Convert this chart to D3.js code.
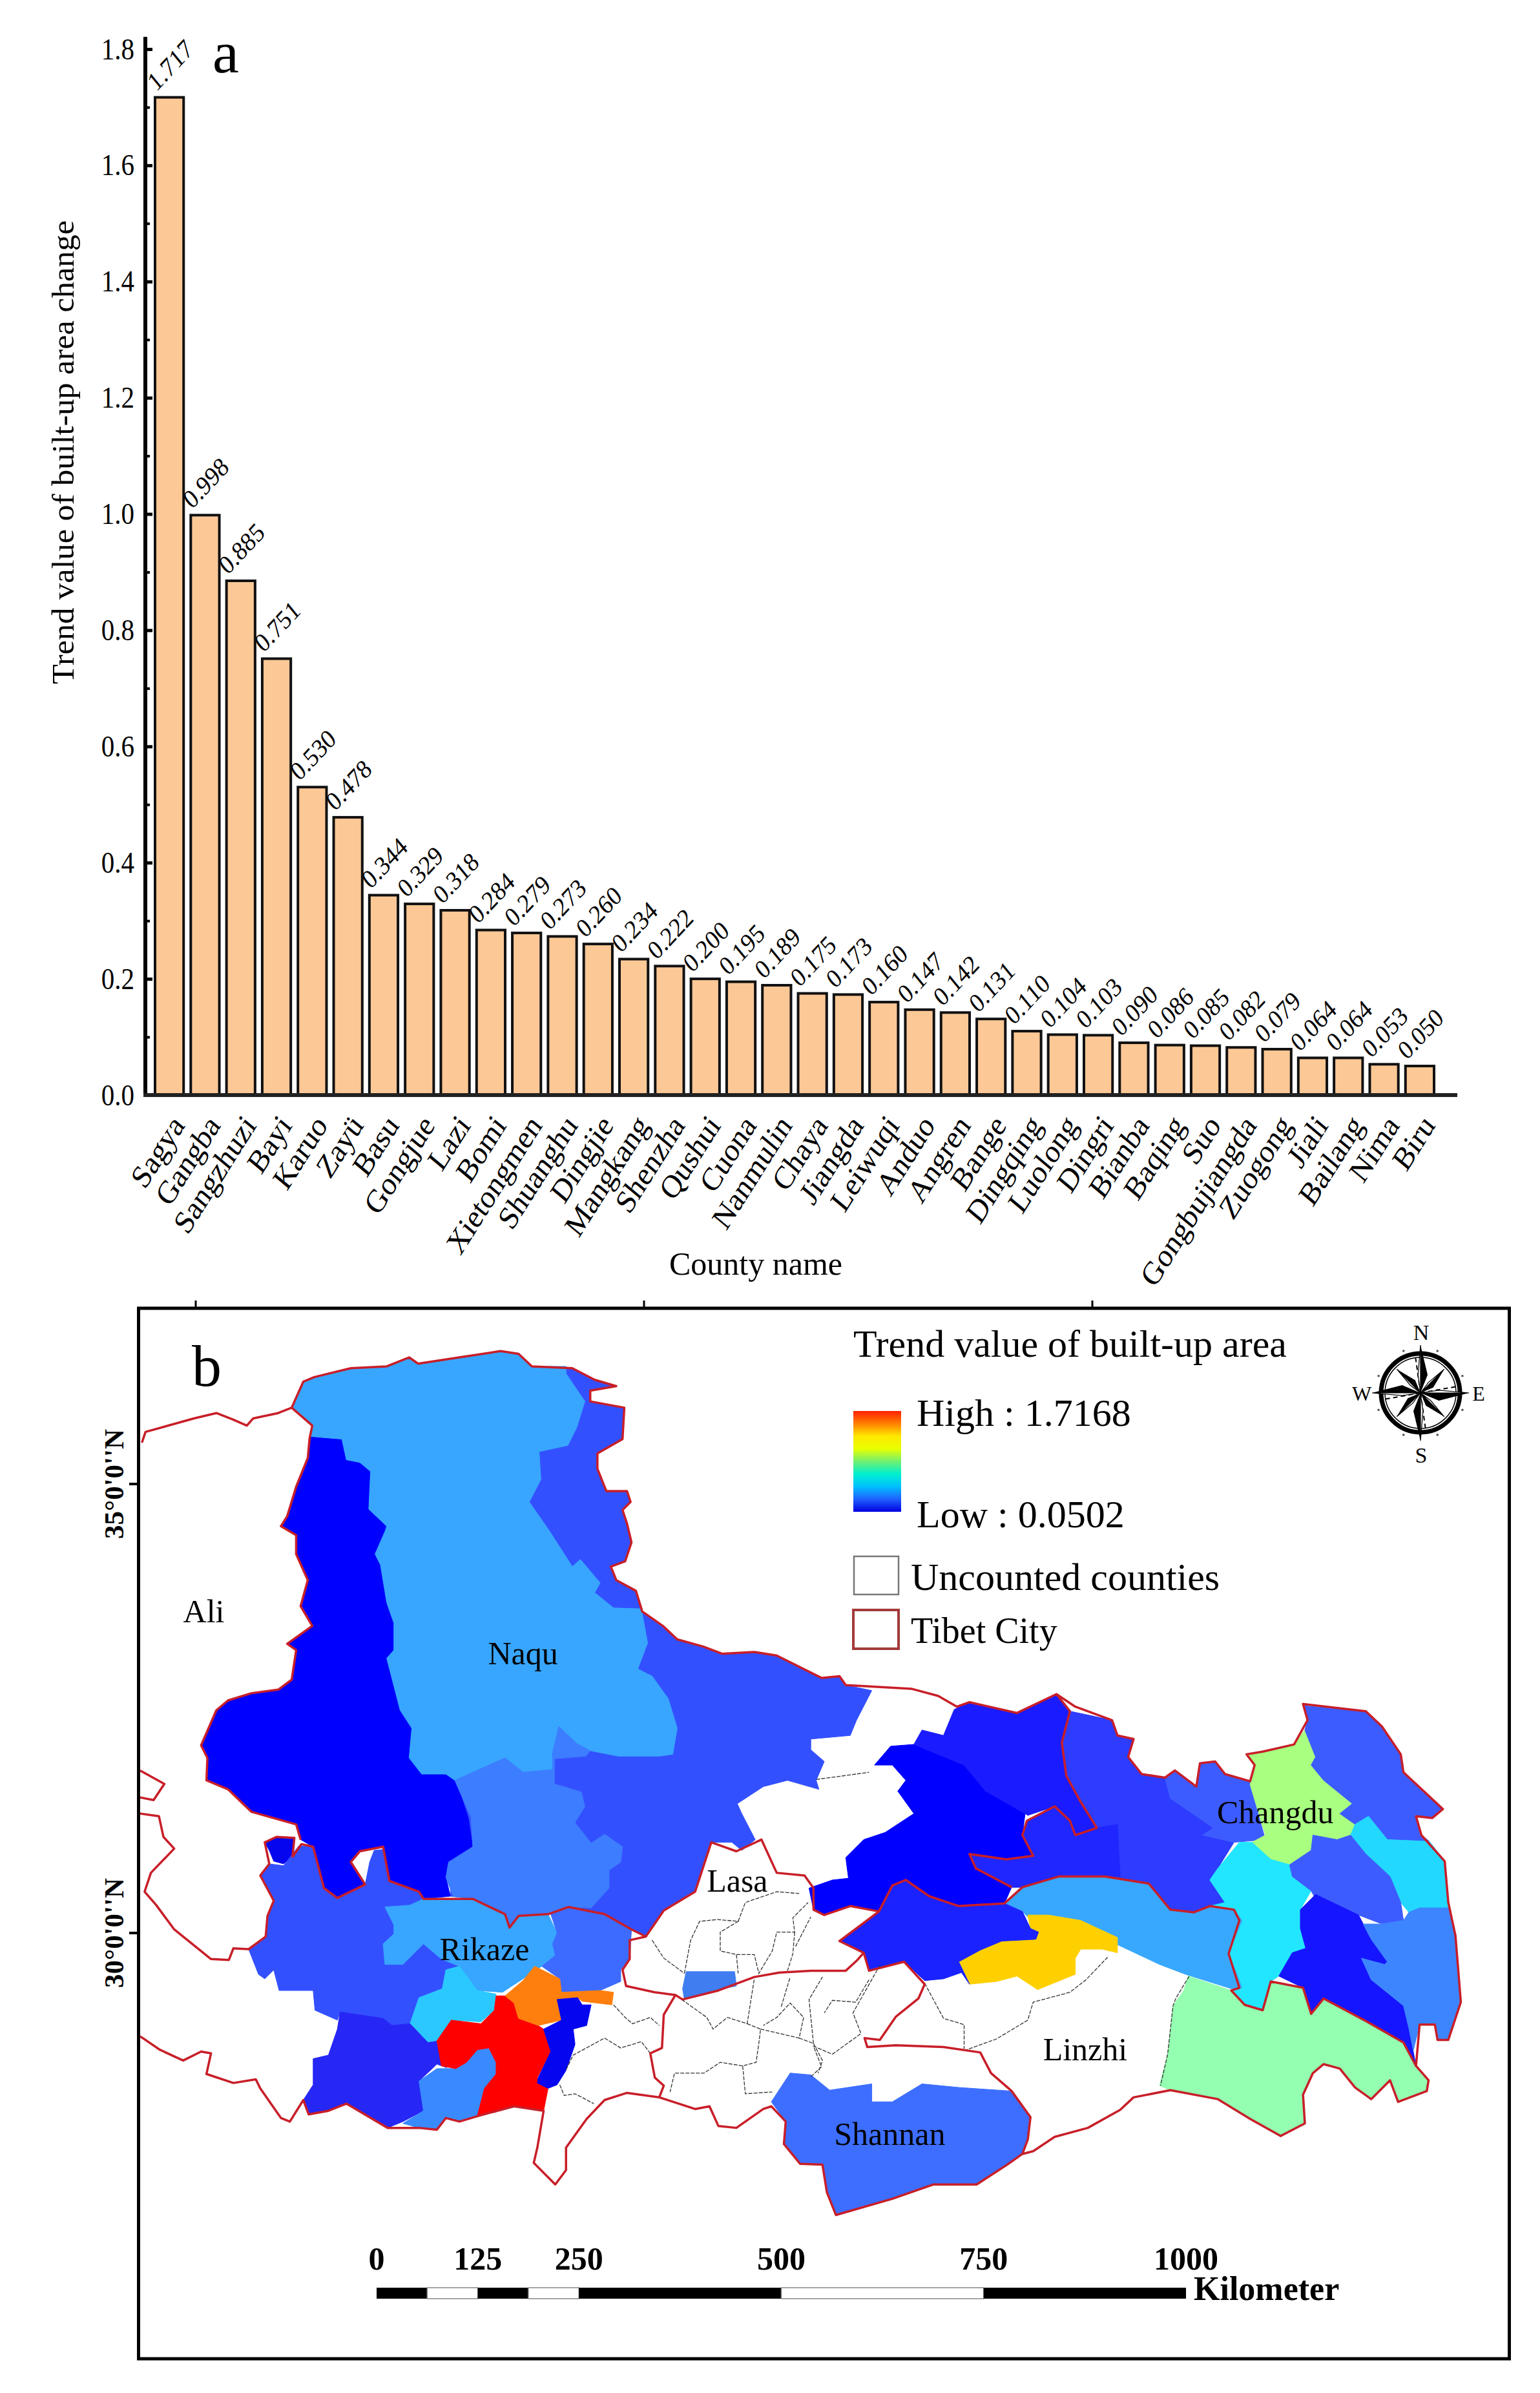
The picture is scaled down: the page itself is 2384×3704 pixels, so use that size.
<!DOCTYPE html>
<html>
<head>
<meta charset="utf-8">
<title>Trend value of built-up area change</title>
<script src="https://cdn.jsdelivr.net/npm/d3@7"></script>
<style>
body { margin: 0; background: #fff; }
svg { display: block; }
text { font-family: "Liberation Serif", serif; fill: #000; }
</style>
</head>
<body>
<svg width="2384" height="3704"></svg>
<script>
// ---- panel a data
const counties = ["Sagya","Gangba","Sangzhuzi","Bayi","Karuo","Zayü","Basu","Gongjue","Lazi","Bomi","Xietongmen","Shuanghu","Dingjie","Mangkang","Shenzha","Qushui","Cuona","Nanmulin","Chaya","Jiangda","Leiwuqi","Anduo","Angren","Bange","Dingqing","Luolong","Dingri","Bianba","Baqing","Suo","Gongbujiangda","Zuogong","Jiali","Bailang","Nima","Biru"];
const trendValues = [1.717,0.998,0.885,0.751,0.530,0.478,0.344,0.329,0.318,0.284,0.279,0.273,0.260,0.234,0.222,0.200,0.195,0.189,0.175,0.173,0.160,0.147,0.142,0.131,0.110,0.104,0.103,0.090,0.086,0.085,0.082,0.079,0.064,0.064,0.053,0.050];
const yTicks = [0,0.2,0.4,0.6,0.8,1.0,1.2,1.4,1.6,1.8];
const yMinorTicks = [0.1,0.3,0.5,0.7,0.9,1.1,1.3,1.5,1.7];

const naquBase = [[88.60,36.45],[88.75,36.31],[89.20,36.29],[89.45,36.16],[89.69,36.09],[89.40,36.04],[89.40,35.92],[89.78,35.85],[89.76,35.50],[89.48,35.34],[89.48,35.17],[89.58,34.92],[89.81,34.92],[89.85,34.80],[89.76,34.71],[89.81,34.56],[89.86,34.35],[89.79,34.14],[89.63,34.08],[89.69,33.93],[89.91,33.81],[89.98,33.58],[90.21,33.42],[90.37,33.27],[90.66,33.19],[90.87,33.11],[91.23,33.13],[91.48,33.09],[91.98,32.84],[92.18,32.86],[92.25,32.76],[92.54,32.70],[92.37,32.37],[92.30,32.20],[91.86,32.16],[91.86,32.04],[92.01,31.91],[91.92,31.70],[91.95,31.60],[91.60,31.70],[91.33,31.63],[91.04,31.44],[91.09,31.33],[91.24,31.04],[91.09,30.92],[90.98,31.01],[90.75,31.01],[90.57,30.46],[90.22,30.25],[90.02,29.96],[89.86,30.04],[89.56,30.21],[89.16,30.29],[88.93,30.21],[88.60,30.19],[88.50,30.06],[88.45,30.21],[88.30,30.28],[88.09,30.38],[87.84,30.41],[87.87,31.74],[87.59,32.83],[87.25,34.53],[87.25,36.22]];
const naquDeep = [[86.30,35.65],[86.27,35.51],[86.25,35.29],[86.12,34.97],[86.02,34.64],[85.95,34.53],[86.12,34.43],[86.12,34.22],[86.25,33.93],[86.17,33.64],[86.30,33.42],[86.02,33.22],[86.12,33.15],[86.07,32.82],[85.92,32.71],[85.62,32.67],[85.36,32.59],[85.23,32.48],[85.06,32.09],[85.13,31.95],[85.12,31.70],[85.36,31.60],[85.62,31.35],[86.12,31.21],[86.17,31.04],[86.31,30.96],[86.43,30.50],[86.58,30.39],[86.89,30.54],[86.73,30.79],[86.83,30.91],[87.09,30.96],[87.16,30.58],[87.49,30.46],[87.54,30.38],[87.84,30.41],[87.79,30.62],[87.82,30.79],[88.09,30.96],[88.04,31.28],[87.92,31.65],[87.87,31.74],[87.80,31.97],[87.60,32.83],[87.40,34.19],[87.30,34.78],[87.20,35.46]];
const naquLight = [[86.07,35.85],[86.20,36.14],[86.32,36.19],[86.73,36.29],[87.13,36.31],[87.38,36.41],[87.48,36.34],[87.94,36.41],[88.40,36.48],[88.60,36.45],[88.75,36.31],[89.13,36.31],[89.13,36.23],[89.34,35.92],[89.25,35.63],[89.15,35.43],[88.83,35.36],[88.85,35.05],[88.72,34.80],[88.95,34.47],[89.20,34.08],[89.29,34.16],[89.51,33.90],[89.45,33.79],[89.66,33.62],[89.97,33.61],[90.04,33.23],[89.93,32.94],[90.09,32.86],[90.27,32.61],[90.37,32.28],[90.32,31.99],[90.17,31.97],[89.71,31.97],[89.40,32.03],[89.25,32.11],[89.05,32.30],[88.98,32.01],[88.98,31.82],[88.65,31.79],[88.45,31.95],[87.89,31.70],[87.79,31.77],[87.52,31.77],[87.38,31.95],[87.41,32.28],[87.28,32.48],[87.13,33.06],[87.21,33.15],[87.21,33.45],[87.13,33.68],[87.06,34.10],[87.00,34.22],[87.11,34.47],[87.13,34.53],[86.93,34.72],[86.95,35.14],[86.83,35.24],[86.68,35.27],[86.63,35.50],[86.27,35.53],[86.30,35.65]];
const shenzha = [[87.89,31.70],[88.45,31.95],[88.65,31.79],[88.98,31.82],[88.98,32.01],[89.05,32.30],[89.25,32.11],[89.40,32.03],[89.35,31.97],[89.00,31.94],[89.00,31.66],[89.30,31.57],[89.34,31.41],[89.23,31.23],[89.41,31.00],[89.56,31.10],[89.76,30.96],[89.74,30.79],[89.61,30.70],[89.61,30.50],[89.41,30.28],[89.16,30.29],[88.93,30.21],[88.60,30.19],[88.50,30.06],[88.45,30.21],[88.30,30.28],[88.09,30.38],[87.87,30.41],[87.79,30.62],[87.82,30.79],[88.09,30.96],[88.07,31.29],[87.92,31.63]];
const smallWest = [[85.77,31.01],[85.90,31.07],[86.10,31.06],[86.08,30.85],[85.98,30.77],[85.87,30.80],[85.82,30.92]];
const rikazeBase = [[85.59,29.82],[85.78,29.96],[85.80,30.19],[85.87,30.36],[85.72,30.64],[85.82,30.77],[85.98,30.75],[86.15,30.97],[86.31,30.96],[86.43,30.50],[86.58,30.39],[86.89,30.54],[86.94,30.79],[86.99,30.92],[87.09,30.93],[87.16,30.58],[87.49,30.46],[87.54,30.38],[87.75,30.28],[88.00,30.00],[88.00,29.50],[87.80,29.38],[87.49,29.28],[87.39,28.99],[87.19,28.97],[87.09,29.05],[86.61,29.12],[86.58,29.03],[86.33,29.14],[86.31,29.36],[85.93,29.36],[85.87,29.59],[85.77,29.49],[85.70,29.54]];
const rikazeLight = [[87.54,30.38],[88.09,30.38],[88.30,30.28],[88.45,30.21],[88.50,30.06],[88.60,30.19],[88.93,30.21],[89.03,30.00],[88.98,29.88],[89.01,29.75],[88.86,29.63],[88.65,29.49],[88.42,29.34],[88.14,29.36],[87.94,29.63],[87.74,29.71],[87.54,29.88],[87.31,29.65],[87.11,29.65],[87.09,29.88],[87.21,29.99],[87.21,30.09],[87.11,30.29],[87.39,30.31]];
const rikazeEast = [[88.96,30.21],[89.03,30.00],[88.98,29.88],[89.01,29.75],[88.86,29.63],[89.06,29.49],[89.08,29.34],[89.51,29.36],[89.74,29.46],[89.74,29.59],[89.84,29.71],[89.86,30.04],[89.56,30.21],[89.18,30.29]];
const rikazeCyan = [[87.94,29.63],[88.14,29.36],[88.35,29.32],[88.33,29.14],[88.18,29.01],[87.85,29.03],[87.69,28.80],[87.59,28.78],[87.39,28.99],[87.49,29.28],[87.75,29.38],[87.79,29.59]];
const gangba = [[86.61,29.12],[87.09,29.05],[87.19,28.97],[87.39,28.99],[87.59,28.78],[87.72,28.80],[87.80,28.75],[87.80,28.50],[87.69,28.54],[87.49,28.35],[87.54,28.02],[87.31,27.90],[87.14,27.83],[86.68,28.10],[86.48,28.02],[86.26,27.98],[86.20,28.14],[86.31,28.31],[86.31,28.60],[86.48,28.64],[86.58,28.93]];
const lowerBlue = [[87.49,28.35],[87.69,28.49],[87.90,28.49],[88.02,28.56],[88.14,28.70],[88.27,28.72],[88.35,28.56],[88.35,28.43],[88.22,28.27],[88.14,27.96],[87.94,27.90],[87.79,27.94],[87.69,27.81],[87.49,27.83],[87.31,27.88],[87.54,28.02]];
const sagya = [[88.45,29.30],[88.55,29.22],[88.60,29.05],[88.82,28.97],[88.88,28.93],[88.96,28.68],[88.81,28.39],[88.93,28.27],[88.88,28.02],[88.55,28.07],[88.14,27.96],[88.22,28.27],[88.35,28.43],[88.35,28.56],[88.27,28.72],[88.14,28.70],[88.02,28.56],[87.90,28.49],[87.74,28.52],[87.69,28.80],[87.85,29.03],[88.18,28.99],[88.33,29.14],[88.35,29.30]];
const sangzhuzi = [[88.78,29.63],[89.06,29.49],[89.08,29.34],[89.51,29.36],[89.66,29.34],[89.64,29.20],[89.31,29.24],[89.26,29.28],[89.03,29.26],[89.08,29.03],[88.82,28.97],[88.60,29.05],[88.55,29.22],[88.45,29.30],[88.65,29.47]];
const kangmar = [[89.03,29.26],[89.26,29.28],[89.31,29.20],[89.41,29.20],[89.36,28.97],[89.21,28.93],[89.23,28.76],[89.13,28.47],[89.03,28.31],[88.93,28.27],[88.81,28.33],[88.82,28.39],[88.96,28.68],[88.88,28.93],[89.08,29.03]];
const lasaBlue = [[90.47,29.57],[91.01,29.57],[91.03,29.41],[90.78,29.36],[90.45,29.26],[90.43,29.38]];
const centralDeep = [[92.57,31.87],[92.75,32.08],[93.01,32.10],[93.57,31.87],[93.81,31.58],[94.25,31.33],[94.22,31.09],[94.34,30.86],[94.04,30.82],[93.63,30.88],[93.70,30.72],[94.10,30.51],[94.02,30.33],[93.51,30.30],[93.18,30.41],[92.92,30.59],[92.77,30.53],[92.62,30.24],[92.30,30.30],[92.01,30.20],[91.89,30.26],[91.84,30.50],[92.10,30.59],[92.28,30.61],[92.25,30.84],[92.45,31.04],[92.69,31.12],[93.01,31.33],[92.83,31.58],[92.92,31.70],[92.77,31.87]];
const centralTop = [[93.01,32.10],[93.10,32.26],[93.34,32.20],[93.46,32.49],[93.63,32.57],[94.16,32.45],[94.60,32.66],[94.75,32.47],[94.66,32.12],[94.71,31.75],[94.87,31.46],[95.05,31.17],[94.81,31.09],[94.75,31.25],[94.58,31.41],[94.28,31.31],[94.25,31.33],[93.81,31.58],[93.57,31.87]];
const changduWest = [[94.75,32.47],[95.22,32.37],[95.28,32.20],[95.46,32.16],[95.40,31.96],[95.55,31.77],[95.81,31.73],[95.87,31.50],[96.35,31.17],[96.23,31.09],[96.58,31.01],[96.40,30.72],[96.31,30.59],[96.48,30.34],[96.31,30.30],[96.13,30.23],[95.87,30.26],[95.63,30.55],[95.14,30.63],[94.63,30.63],[94.22,30.51],[94.10,30.51],[93.70,30.72],[93.63,30.88],[94.04,30.82],[94.34,30.86],[94.22,31.09],[94.27,31.25],[94.58,31.41],[94.75,31.25],[94.81,31.09],[95.05,31.17],[94.87,31.46],[94.71,31.75],[94.66,32.12]];
const changduDark = [[95.05,31.17],[95.28,31.21],[95.31,30.63],[95.14,30.63],[94.63,30.63],[94.22,30.51],[94.10,30.51],[93.70,30.72],[93.63,30.88],[94.04,30.82],[94.34,30.86],[94.22,31.09],[94.27,31.25],[94.58,31.41],[94.75,31.25],[94.81,31.09]];
const dingqing = [[95.81,31.73],[95.92,31.81],[96.16,31.63],[96.20,31.89],[96.37,31.91],[96.48,31.77],[96.76,31.69],[96.76,31.65],[96.93,31.04],[96.58,31.01],[96.23,31.09],[96.35,31.17],[95.87,31.50]];
const leiwuqi = [[97.37,32.26],[97.49,31.96],[97.44,31.87],[97.58,31.70],[97.90,31.44],[97.76,31.33],[97.93,31.21],[97.88,31.09],[97.73,31.04],[97.46,31.09],[97.44,30.92],[97.20,30.76],[96.99,30.82],[96.78,31.01],[96.93,31.09],[96.76,31.65],[96.81,31.87],[96.72,31.99],[96.90,32.02],[97.25,32.10]];
const jiangda = [[97.37,32.53],[98.05,32.47],[98.23,32.30],[98.44,31.99],[98.47,31.79],[98.91,31.38],[98.79,31.28],[98.61,31.30],[98.67,31.09],[98.76,31.02],[98.29,31.04],[98.08,31.30],[97.93,31.21],[97.76,31.33],[97.90,31.44],[97.58,31.70],[97.44,31.87],[97.49,31.96],[97.37,32.26],[97.40,32.37]];
const gongjue = [[98.08,31.30],[98.29,31.04],[98.76,31.02],[98.93,30.80],[98.97,30.28],[98.65,30.28],[98.53,30.23],[98.44,30.34],[98.32,30.63],[98.05,30.88],[97.88,31.09],[97.93,31.21]];
const basu = [[96.64,31.01],[96.78,31.01],[96.99,30.82],[97.20,30.76],[97.23,30.63],[97.44,30.47],[97.32,30.26],[97.32,30.05],[97.38,29.83],[97.23,29.78],[97.08,29.52],[96.99,29.46],[96.90,29.14],[96.70,29.20],[96.55,29.36],[96.64,29.39],[96.52,29.77],[96.67,30.14],[96.58,30.26],[96.31,30.30],[96.48,30.34],[96.31,30.59],[96.40,30.72]];
const chaya = [[97.46,31.09],[97.73,31.04],[97.88,31.09],[98.05,30.88],[98.32,30.63],[98.44,30.34],[98.47,30.14],[98.23,30.10],[97.97,30.20],[97.49,30.38],[97.44,30.47],[97.23,30.63],[97.20,30.76],[97.44,30.92]];
const zuogong = [[97.49,30.43],[97.97,30.20],[98.11,29.93],[98.29,29.68],[98.26,29.65],[98.00,29.72],[98.11,29.48],[98.47,29.19],[98.53,28.94],[98.61,28.52],[98.55,28.57],[98.29,28.81],[98.05,29.02],[97.58,29.27],[97.44,29.10],[97.35,29.39],[97.08,29.52],[97.23,29.78],[97.38,29.83],[97.32,30.05],[97.32,30.26]];
const mangkang = [[98.02,30.10],[98.23,30.10],[98.47,30.14],[98.53,30.23],[98.65,30.28],[98.97,30.28],[99.05,29.97],[99.11,29.23],[98.97,28.81],[98.85,28.81],[98.82,28.98],[98.65,28.98],[98.58,28.69],[98.53,28.94],[98.47,29.19],[98.11,29.48],[98.00,29.72],[98.26,29.65],[98.29,29.68],[98.11,29.93]];
const bomi = [[94.02,30.33],[94.22,30.51],[94.63,30.63],[95.14,30.63],[95.63,30.55],[95.87,30.26],[96.13,30.23],[96.31,30.30],[96.58,30.26],[96.67,30.14],[96.52,29.77],[96.67,29.39],[96.55,29.38],[96.04,29.54],[95.75,29.65],[95.28,29.87],[95.28,29.95],[94.87,30.14],[94.51,30.20],[94.28,30.18],[94.22,30.24]];
const bayi = [[94.28,30.20],[94.51,30.20],[94.87,30.14],[95.28,29.95],[95.28,29.78],[95.11,29.82],[94.87,29.82],[94.81,29.72],[94.81,29.54],[94.39,29.37],[94.16,29.52],[93.93,29.46],[93.63,29.43],[93.51,29.68],[93.75,29.81],[93.99,29.91],[94.37,29.93],[94.40,30.01],[94.31,30.05]];
const gongbujiangda = [[92.77,30.53],[92.92,30.59],[93.18,30.41],[93.51,30.30],[94.02,30.33],[94.22,30.24],[94.31,30.05],[94.40,30.01],[94.37,29.93],[93.99,29.91],[93.75,29.81],[93.51,29.68],[93.63,29.43],[93.54,29.56],[93.34,29.49],[93.13,29.47],[92.90,29.68],[92.51,29.58],[92.45,29.78],[92.18,29.91],[92.62,30.24]];
const zayu = [[96.07,29.52],[96.55,29.36],[96.70,29.20],[96.90,29.14],[96.99,29.46],[97.35,29.39],[97.44,29.10],[97.58,29.27],[98.05,29.02],[98.47,28.78],[98.61,28.52],[98.75,28.36],[98.73,28.24],[98.41,28.12],[98.32,28.36],[98.11,28.15],[97.93,28.28],[97.76,28.49],[97.58,28.54],[97.46,28.44],[97.35,28.20],[97.37,27.88],[97.10,27.74],[96.76,27.93],[96.40,28.15],[95.87,28.25],[95.75,28.30],[95.84,28.65],[95.90,29.19],[96.02,29.36]];
const cuona = [[91.42,28.12],[91.63,28.44],[91.86,28.42],[92.07,28.25],[92.54,28.32],[92.54,28.12],[92.77,28.12],[93.10,28.32],[93.51,28.28],[94.10,28.24],[94.31,27.95],[94.28,27.70],[94.22,27.54],[94.05,27.42],[93.71,27.20],[93.23,27.20],[92.77,27.04],[92.14,26.86],[92.04,27.11],[91.99,27.42],[91.74,27.43],[91.56,27.65],[91.58,27.90]];

const regionRings = [naquBase,naquDeep,naquLight,shenzha,smallWest,rikazeBase,rikazeLight,rikazeEast,rikazeCyan,gangba,lowerBlue,sagya,sangzhuzi,kangmar,lasaBlue,centralDeep,centralTop,changduWest,changduDark,dingqing,leiwuqi,jiangda,gongjue,basu,chaya,zuogong,mangkang,bomi,bayi,gongbujiangda,zayu,cuona];
const regionColors = ["#3350ff","#0000ff","#38a6ff","#3d7dff","#0505f0","#3350ff","#38a6ff","#3d6bff","#2bc8ff","#2626f5","#3a8aff","#ff0000","#ff7f0e","#0505f0","#3f7df0","#0000ff","#1b1bff","#2d3cff","#2026ff","#3d5cff","#a8ff80","#3d5cff","#22d8ff","#22e6ff","#3d5cff","#1515ff","#3d85ff","#38a8ff","#ffd000","#1a22ff","#94ffb0","#3d6eff"];

// red city borders
const borderNorthWest = [[84.40,35.46],[84.44,35.58],[84.98,35.73],[85.23,35.79],[85.41,35.72],[85.57,35.65],[85.64,35.73],[85.92,35.79],[86.07,35.85]];
const borderMain = [[86.07,35.85],[86.20,36.14],[86.32,36.19],[86.73,36.29],[87.13,36.31],[87.38,36.41],[87.48,36.34],[87.94,36.41],[88.40,36.48],[88.60,36.45],[88.75,36.31],[89.20,36.29],[89.45,36.16],[89.69,36.09],[89.40,36.04],[89.40,35.92],[89.78,35.85],[89.76,35.50],[89.48,35.34],[89.48,35.17],[89.58,34.92],[89.81,34.92],[89.85,34.80],[89.76,34.71],[89.81,34.56],[89.86,34.35],[89.79,34.14],[89.63,34.08],[89.69,33.93],[89.91,33.81],[89.98,33.58],[90.21,33.42],[90.37,33.27],[90.66,33.19],[90.87,33.11],[91.23,33.13],[91.48,33.09],[91.98,32.84],[92.18,32.86],[92.25,32.76],[92.98,32.72],[93.28,32.64],[93.49,32.52],[93.63,32.57],[94.16,32.45],[94.60,32.66],[94.81,32.52],[95.22,32.37],[95.28,32.20],[95.46,32.16],[95.40,31.96],[95.55,31.77],[95.81,31.73],[95.92,31.81],[96.16,31.63],[96.20,31.89],[96.37,31.91],[96.48,31.77],[96.76,31.69],[96.81,31.87],[96.72,31.99],[96.90,32.02],[97.25,32.10],[97.35,32.28],[97.40,32.37],[97.35,32.55],[98.05,32.47],[98.23,32.30],[98.44,31.99],[98.47,31.79],[98.91,31.38],[98.79,31.28],[98.61,31.30],[98.67,31.09],[98.93,30.80],[98.97,30.34],[99.05,29.97],[99.11,29.23],[98.97,28.81],[98.85,28.81],[98.82,28.98],[98.65,28.98],[98.61,28.52],[98.75,28.36],[98.73,28.24],[98.41,28.12],[98.32,28.36],[98.11,28.15],[97.93,28.28],[97.76,28.49],[97.58,28.54],[97.46,28.44],[97.35,28.20],[97.37,27.88],[97.10,27.74],[96.76,27.93],[96.40,28.15],[95.87,28.25],[95.46,28.17],[95.31,28.03],[94.95,27.83],[94.58,27.73],[94.34,27.57],[94.22,27.54],[94.05,27.42],[93.71,27.20],[93.23,27.20],[92.77,27.04],[92.14,26.86],[92.04,27.11],[91.99,27.42],[91.74,27.43],[91.56,27.65],[91.58,27.90],[91.42,28.07],[91.33,28.04],[91.03,27.83],[90.83,27.85],[90.73,28.07],[90.57,28.04],[90.17,28.17],[89.81,28.22],[89.56,28.14],[89.36,27.93],[89.13,27.61],[89.13,27.36],[89.01,27.20],[88.77,27.44],[88.81,27.61],[88.88,28.02],[88.55,28.07],[88.14,27.96],[87.94,27.90],[87.79,27.94],[87.69,27.81],[87.49,27.83],[87.14,27.83],[86.68,28.10],[86.48,28.02],[86.26,27.98],[86.20,28.14],[86.05,27.90],[85.95,27.94],[85.72,28.27],[85.67,28.37],[85.42,28.33],[85.12,28.43],[85.17,28.66],[85.06,28.68],[84.86,28.58],[84.60,28.70],[84.38,28.85]];
const borderCentral = [[84.38,31.33],[84.59,31.30],[84.64,31.07],[84.76,30.94],[84.50,30.67],[84.43,30.46],[84.56,30.31],[84.76,30.04],[85.17,29.71],[85.37,29.70],[85.42,29.83],[85.59,29.82],[85.78,29.96],[85.80,30.19],[85.87,30.36],[85.72,30.64],[85.82,30.77],[85.77,31.01],[85.90,31.07],[86.10,31.06],[86.08,30.85],[86.18,30.99],[86.31,30.96],[86.43,30.50],[86.58,30.39],[86.89,30.54],[86.73,30.79],[86.83,30.91],[87.09,30.96],[87.16,30.58],[87.49,30.46],[87.54,30.38],[88.09,30.38],[88.30,30.28],[88.45,30.21],[88.50,30.06],[88.60,30.19],[88.93,30.21],[89.16,30.29],[89.56,30.21],[89.86,30.04],[90.02,29.96],[90.22,30.25],[90.57,30.46],[90.75,31.01],[91.03,30.91],[91.31,31.04],[91.48,30.67],[91.79,30.64],[91.89,30.50],[91.89,30.26],[92.01,30.20],[92.30,30.30],[92.62,30.24],[92.77,30.53],[92.92,30.59],[93.18,30.41],[93.51,30.30],[94.02,30.33],[94.22,30.51],[94.63,30.63],[95.14,30.63],[95.63,30.55],[95.87,30.26],[96.13,30.23],[96.31,30.30],[96.58,30.26],[96.64,30.14],[96.52,29.77],[96.64,29.39],[96.55,29.36],[96.70,29.20],[96.90,29.14],[96.99,29.46],[97.35,29.39],[97.44,29.10],[97.58,29.27],[98.05,29.02],[98.47,28.78],[98.61,28.52]];
const borderChangdu = [[94.60,32.66],[94.75,32.47],[94.66,32.12],[94.71,31.75],[94.87,31.46],[95.05,31.17],[94.81,31.09],[94.75,31.25],[94.58,31.41],[94.27,31.25],[94.22,31.09],[94.34,30.86],[94.04,30.82],[93.63,30.88],[93.70,30.72],[94.10,30.51]];
const borderLinzhi = [[92.62,30.24],[92.18,29.91],[92.45,29.78],[92.51,29.58],[92.90,29.68],[93.13,29.43],[93.06,29.27],[92.81,29.07],[92.63,28.81],[92.46,28.83],[92.49,28.73],[92.81,28.75],[93.34,28.73],[93.75,28.67],[93.87,28.44],[94.10,28.24],[94.31,27.95],[94.28,27.70],[94.22,27.54]];
const borderLasaSouth = [[92.45,29.78],[92.38,29.70],[92.25,29.58],[91.86,29.58],[91.51,29.56],[91.23,29.51],[90.83,29.36],[90.43,29.26],[90.35,29.31],[90.22,29.09],[90.20,28.72],[90.07,28.66],[90.12,28.39],[90.22,28.30],[90.17,28.17]];
const borderLasaWest = [[90.02,29.96],[89.84,29.92],[89.84,29.71],[89.76,29.59],[89.80,29.41],[90.12,29.34],[90.35,29.31]];
const borderAli = [[86.07,35.85],[86.30,35.65],[86.27,35.51],[86.25,35.29],[86.12,34.97],[86.02,34.64],[85.95,34.53],[86.12,34.43],[86.12,34.22],[86.25,33.93],[86.17,33.64],[86.30,33.42],[86.02,33.22],[86.12,33.15],[86.07,32.82],[85.92,32.71],[85.62,32.67],[85.36,32.59],[85.23,32.48],[85.06,32.09],[85.13,31.95],[85.12,31.70],[85.36,31.60],[85.62,31.35],[86.12,31.21],[86.17,31.04]];
const borderHook = [[84.38,31.81],[84.65,31.66],[84.53,31.48],[84.38,31.51]];
const redBorders = [borderNorthWest,borderMain,borderCentral,borderChangdu,borderLinzhi,borderLasaSouth,borderLasaWest,borderAli,borderHook];

// thin county lines in the uncounted areas
const countyLines = [
  [[90.09,29.92],[90.22,29.72],[90.45,29.55]],
  [[90.45,29.55],[90.52,29.92],[90.62,30.13],[90.82,30.15],[91.05,30.13],[90.85,30.01],[90.85,29.80],[91.03,29.76],[91.05,29.55]],
  [[91.05,30.13],[91.13,30.34],[91.48,30.46],[91.73,30.44]],
  [[91.03,29.76],[91.23,29.76],[91.28,29.55],[91.43,29.80],[91.48,30.01],[91.68,30.01],[91.66,30.17],[91.83,30.34]],
  [[91.68,30.01],[91.66,29.77],[91.60,29.58]],
  [[91.69,29.85],[91.86,30.18]],
  [[90.42,29.26],[90.70,29.06],[90.77,28.93],[90.93,29.06],[91.15,28.99],[91.23,29.49]],
  [[91.15,28.99],[91.30,28.93],[91.28,28.77],[91.25,28.56],[91.10,28.52],[91.13,28.21],[91.43,28.23]],
  [[91.10,28.52],[90.85,28.56],[90.67,28.44],[90.34,28.44],[90.29,28.23]],
  [[91.30,28.93],[91.73,28.83],[91.78,29.06],[91.63,29.22],[91.48,29.06],[91.33,28.97]],
  [[91.73,28.83],[91.89,28.77],[91.99,28.58],[91.94,28.44]],
  [[91.89,28.77],[91.84,29.26],[91.99,29.51]],
  [[91.53,29.18],[91.63,29.51]],
  [[89.66,29.20],[89.79,29.06],[89.87,28.99],[90.07,29.06],[90.17,28.97]],
  [[89.13,28.48],[89.21,28.64],[89.56,28.83],[89.74,28.72],[89.97,28.79],[90.07,28.66]],
  [[89.06,28.31],[89.11,28.19],[89.23,28.21],[89.44,28.10]],
  [[93.13,29.44],[93.34,29.05],[93.57,28.98],[93.57,28.71]],
  [[93.57,28.69],[93.93,28.82],[94.28,29.03],[94.34,29.23],[94.75,29.34],[94.93,29.48],[95.17,29.73]],
  [[96.08,29.52],[95.93,29.27],[95.90,29.19],[95.84,28.65],[95.76,28.30]],
  [[92.51,29.48],[92.36,29.23],[92.10,29.25],[92.01,29.11]],
  [[92.63,29.64],[92.33,29.11],[92.42,28.88],[92.10,28.65],[91.89,28.74],[91.98,28.51],[91.86,28.40]],
  [[91.92,31.71],[92.22,31.75],[92.51,31.79]]
];

const cityNames = ["Ali","Naqu","Rikaze","Lasa","Changdu","Linzhi","Shannan"];
const cityLon = [84.86,88.26,87.72,90.70,96.39,94.45,92.12];
const cityLat = [33.46,32.99,29.70,30.46,31.22,28.58,27.64];

const lonTicks = [85,90,95];
const latTicks = [35,30];
const latLabels = ["35°0'0''N","30°0'0''N"];

const scaleBarLabels = [0,125,250,500,750,1000];
const scaleBarStops = [0,62.5,125,187.5,250,500,750,1000];

const rampColors = ["#ff2000","#ff8000","#ffe800","#e8ff00","#70f070","#00f0d0","#00c0ff","#2060ff","#0000e0"];

// compass rose
const rayAngles = [0,90,180,270,45,135,225,315];
const rayLengths = [74,75,74,75,52,52,52,52];
const rayWidths = [11,12,11,12,8,8,8,8];
const dashAngles = [352,80,172,260];
const dotAngles = [22,68,112,158,202,248,292,338];

const svg = d3.select("svg");
svg.append("rect").attr("width",2384).attr("height",3704).attr("fill","#fff");

// ---------- panel a ----------
const a = svg.append("g");
const xBar = d3.scaleBand().domain(counties).range([240,2220]).paddingInner(0.2).paddingOuter(0);
const yBar = d3.scaleLinear().domain([0,1.8]).range([1695,76]);
const stretch = 1.15;

a.selectAll("rect.bar")
  .data(counties)
  .join("rect")
    .attr("class","bar")
    .attr("x", d => xBar(d))
    .attr("y", (d,i) => yBar(trendValues[i]))
    .attr("width", xBar.bandwidth())
    .attr("height", (d,i) => yBar(0) - yBar(trendValues[i]))
    .attr("fill","#fcc896")
    .attr("stroke","#111")
    .attr("stroke-width",4);

a.selectAll("text.value")
  .data(counties)
  .join("text")
    .attr("class","value")
    .attr("transform",(d,i) => `translate(${xBar(d)+2},${yBar(trendValues[i])-8}) scale(1,${stretch}) rotate(-43)`)
    .attr("font-size",36)
    .text((d,i) => trendValues[i].toFixed(3));

const yAxis = a.append("g").attr("transform","translate(225,0)")
  .call(d3.axisLeft(yBar).tickValues(yTicks).tickSize(-11).tickPadding(17).tickFormat(d3.format(".1f")));
yAxis.select(".domain").remove();
yAxis.selectAll("line").attr("stroke","#000").attr("stroke-width",5);
yAxis.selectAll("text").attr("font-size",41).attr("transform",`scale(1,${stretch})`);

const yMinor = a.append("g").attr("transform","translate(225,0)")
  .call(d3.axisLeft(yBar).tickValues(yMinorTicks).tickSize(-7).tickFormat(""));
yMinor.select(".domain").remove();
yMinor.selectAll("line").attr("stroke","#000").attr("stroke-width",4);

a.append("line").attr("x1",225).attr("x2",225).attr("y1",57).attr("y2",yBar(0)+3).attr("stroke","#000").attr("stroke-width",6);

const xAxis = a.append("g").attr("transform",`translate(0,${yBar(0)})`)
  .call(d3.axisBottom(xBar).tickSize(0).tickFormat(d => d));
xAxis.select(".domain").remove();
xAxis.selectAll("text")
  .attr("font-size",44)
  .attr("text-anchor","end")
  .attr("x",0).attr("y",0).attr("dy","0.32em")
  .attr("transform",`translate(14,38) scale(1,${stretch}) rotate(-54)`);
a.append("line").attr("x1",222).attr("x2",2256).attr("y1",yBar(0)).attr("y2",yBar(0)).attr("stroke","#222").attr("stroke-width",6);

a.append("text").attr("transform",`translate(114,700) rotate(-90) scale(1.06,1)`)
  .attr("text-anchor","middle").attr("font-size",47.5).text("Trend value of built-up area change");
a.append("text").attr("x",1170).attr("y",1973).attr("text-anchor","middle").attr("font-size",50).text("County name");
a.append("text").attr("x",329).attr("y",112).attr("font-size",92).text("a");

// ---------- panel b ----------
const b = svg.append("g");
const lonX = d3.scaleLinear().domain([85,90]).range([303,997]);
const latY = d3.scaleLinear().domain([35,30]).range([2297,2992]);
const mapLine = d3.line().x(d => lonX(d[0])).y(d => latY(d[1]));

b.append("g").selectAll("path")
  .data(regionRings)
  .join("path")
    .attr("d", d => mapLine(d) + "Z")
    .attr("fill", (d,i) => regionColors[i])
    .attr("stroke", (d,i) => regionColors[i])
    .attr("stroke-width",1);

b.append("g").selectAll("path")
  .data(countyLines)
  .join("path")
    .attr("d", mapLine)
    .attr("fill","none")
    .attr("stroke","#333")
    .attr("stroke-width",1.3)
    .attr("stroke-dasharray","6,2");

b.append("g").selectAll("path")
  .data(redBorders)
  .join("path")
    .attr("d", mapLine)
    .attr("fill","none")
    .attr("stroke","#c81e28")
    .attr("stroke-width",3.5)
    .attr("stroke-linejoin","round");

b.selectAll("text.city")
  .data(cityNames)
  .join("text")
    .attr("class","city")
    .attr("x",(d,i) => lonX(cityLon[i]))
    .attr("y",(d,i) => latY(cityLat[i]))
    .attr("font-size",50)
    .text(d => d);

// frame and graticule ticks
b.append("rect").attr("x",214.5).attr("y",2025).attr("width",2122).attr("height",1626)
  .attr("fill","none").attr("stroke","#000").attr("stroke-width",5);
b.selectAll("line.lonTick").data(lonTicks).join("line")
  .attr("class","lonTick")
  .attr("x1",d => lonX(d)).attr("x2",d => lonX(d)).attr("y1",2013).attr("y2",2025)
  .attr("stroke","#000").attr("stroke-width",3);
b.selectAll("line.latTick").data(latTicks).join("line")
  .attr("class","latTick")
  .attr("y1",d => latY(d)).attr("y2",d => latY(d)).attr("x1",200).attr("x2",214)
  .attr("stroke","#000").attr("stroke-width",4);
b.selectAll("text.latLabel").data(latTicks).join("text")
  .attr("class","latLabel")
  .attr("transform",d => `translate(191,${latY(d)}) rotate(-90)`)
  .attr("text-anchor","middle").attr("font-size",43).attr("font-weight","bold")
  .text((d,i) => latLabels[i]);

b.append("text").attr("x",297).attr("y",2145).attr("font-size",92).text("b");

// legend
b.append("text").attr("x",1321).attr("y",2100).attr("font-size",60).text("Trend value of built-up area");
const grad = svg.append("defs").append("linearGradient").attr("id","ramp").attr("x1",0).attr("x2",0).attr("y1",0).attr("y2",1);
grad.selectAll("stop").data(rampColors).join("stop")
  .attr("offset",(d,i) => i/(rampColors.length-1))
  .attr("stop-color",d => d);
b.append("rect").attr("x",1321).attr("y",2184).attr("width",74).attr("height",156).attr("fill","url(#ramp)");
b.append("text").attr("x",1419).attr("y",2207).attr("font-size",60).text("High : 1.7168");
b.append("text").attr("x",1419).attr("y",2364).attr("font-size",60).text("Low : 0.0502");
b.append("rect").attr("x",1322).attr("y",2409).attr("width",69).attr("height",59).attr("fill","#fff").attr("stroke","#777").attr("stroke-width",2.5);
b.append("text").attr("x",1410).attr("y",2461).attr("font-size",60).text("Uncounted counties");
b.append("rect").attr("x",1321).attr("y",2492).attr("width",70).attr("height",60).attr("fill","#fff").attr("stroke","#a33a3a").attr("stroke-width",4);
b.append("text").attr("x",1410).attr("y",2543).attr("font-size",56).text("Tibet City");

// north arrow
const compass = b.append("g").attr("transform","translate(2199,2156)");
compass.append("circle").attr("r",61).attr("fill","none").attr("stroke","#000").attr("stroke-width",7);
compass.append("circle").attr("r",55).attr("fill","none").attr("stroke","#000").attr("stroke-width",1.5);
dashAngles.forEach(deg => {
  const p = d3.pointRadial(deg * Math.PI / 180,55);
  compass.append("path").attr("d",d3.line()([[0,0],p])).attr("stroke","#000").attr("stroke-width",2).attr("stroke-dasharray","7,5");
});
compass.selectAll("circle.dot").data(dotAngles).join("circle")
  .attr("class","dot")
  .attr("cx",d => d3.pointRadial(d * Math.PI / 180,70)[0])
  .attr("cy",d => d3.pointRadial(d * Math.PI / 180,70)[1])
  .attr("r",1.8).attr("fill","#555");
rayAngles.forEach((deg,i) => {
  const t = deg * Math.PI / 180, w = rayWidths[i], len = rayLengths[i];
  const tip = d3.pointRadial(t,len);
  const mid = d3.pointRadial(t,len * 0.38);
  const off = d3.pointRadial(t + Math.PI/2,w);
  const offOther = d3.pointRadial(t - Math.PI/2,w * 0.35);
  compass.append("path").attr("d",d3.line()([[0,0],tip,[mid[0]+off[0],mid[1]+off[1]]])+"Z").attr("fill","#000");
  compass.append("path").attr("d",d3.line()([[0,0],tip,[mid[0]+offOther[0],mid[1]+offOther[1]]])+"Z").attr("fill","#fff").attr("stroke","#000").attr("stroke-width",1.2);
});
b.append("text").attr("x",2200).attr("y",2074).attr("text-anchor","middle").attr("font-size",34).text("N");
b.append("text").attr("x",2200).attr("y",2264).attr("text-anchor","middle").attr("font-size",34).text("S");
b.append("text").attr("x",2108).attr("y",2168).attr("text-anchor","middle").attr("font-size",32).text("W");
b.append("text").attr("x",2289).attr("y",2168).attr("text-anchor","middle").attr("font-size",32).text("E");

// scale bar
const kmX = d3.scaleLinear().domain([0,1000]).range([583,1836]);
b.selectAll("rect.seg").data(d3.pairs(scaleBarStops)).join("rect")
  .attr("class","seg")
  .attr("x",d => kmX(d[0])).attr("y",3541)
  .attr("width",d => kmX(d[1])-kmX(d[0])).attr("height",17)
  .attr("fill",(d,i) => i%2 ? "#fff" : "#000")
  .attr("stroke",(d,i) => i%2 ? "#888" : "none").attr("stroke-width",1.5);
b.selectAll("text.km").data(scaleBarLabels).join("text")
  .attr("class","km")
  .attr("x",d => kmX(d)).attr("y",3513)
  .attr("text-anchor","middle").attr("font-size",50).attr("font-weight","bold")
  .text(d => d);
b.append("text").attr("x",1848).attr("y",3560).attr("font-size",52).attr("font-weight","bold").text("Kilometer");
</script>
</body>
</html>
